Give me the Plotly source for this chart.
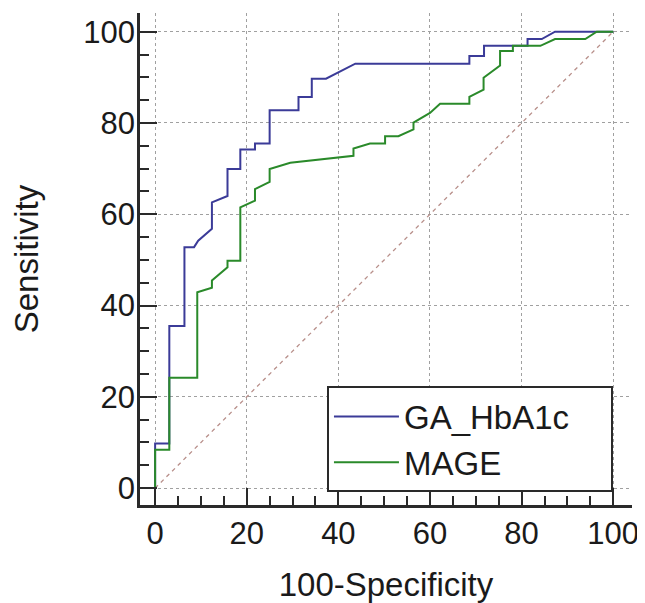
import plotly.graph_objects as go

# ROC curve data (100-Specificity, Sensitivity)
ga_x = [0, 0, 3.1, 3.1, 6.4, 6.4, 8.5, 9.4, 12.4, 12.4, 15.8, 15.8, 18.6, 18.6, 21.8, 21.8, 25.0, 25.0,
        31.3, 31.3, 34.2, 34.2, 37.3, 40.4, 43.7, 68.6, 68.6, 71.8, 71.8, 81.3, 81.3, 84.4, 87.3, 100]
ga_y = [0, 9.8, 9.8, 35.5, 35.5, 52.8, 52.8, 54.2, 56.8, 62.6, 64.0, 69.9, 69.9, 74.2, 74.2, 75.5, 75.5, 82.8,
        82.8, 85.7, 85.7, 89.7, 89.7, 91.3, 93.0, 93.0, 94.7, 94.7, 96.9, 96.9, 98.4, 98.4, 100, 100]

mage_x = [0, 0, 3.1, 3.1, 9.2, 9.2, 12.4, 12.4, 15.8, 15.8, 18.6, 18.6, 21.8, 21.8, 25.0, 25.0, 29.5, 40.4,
          43.3, 43.3, 46.9, 50.2, 50.2, 53.1, 56.4, 56.4, 60.0, 62.2, 68.6, 68.6, 71.7, 71.7, 75.3, 75.3,
          78.1, 78.1, 84.1, 87.3, 93.9, 96.4, 100]
mage_y = [0, 8.4, 8.4, 24.2, 24.2, 42.9, 43.9, 45.5, 48.4, 49.8, 49.8, 61.5, 63.0, 65.5, 67.1, 69.9, 71.3, 72.4,
          72.8, 74.4, 75.5, 75.5, 77.1, 77.1, 78.6, 80.1, 82.2, 84.2, 84.2, 85.7, 87.3, 89.9, 92.6, 95.8,
          95.8, 96.9, 96.9, 98.4, 98.4, 100, 100]

ref_x = [0, 100]
ref_y = [0, 100]

series_names = ["GA_HbA1c", "MAGE"]
tick_vals = [0, 20, 40, 60, 80, 100]

FONT = "Arial, Liberation Sans, sans-serif"
TXT = "#1a1a1a"
PAD = "\u00a0" * 4  # widens the legend box to the reference's width

fig = go.Figure()
fig.add_trace(go.Scatter(x=ref_x, y=ref_y, mode="lines", showlegend=False, hoverinfo="skip",
                         line=dict(color="#b88f8a", width=1.3, dash="4px,4px")))
fig.add_trace(go.Scatter(x=ga_x, y=ga_y, mode="lines", name=series_names[0] + PAD,
                         line=dict(color="#3b3b98", width=2)))
fig.add_trace(go.Scatter(x=mage_x, y=mage_y, mode="lines", name=series_names[1],
                         line=dict(color="#2a8a2a", width=2)))

axis_common = dict(
    tickvals=tick_vals,
    ticks="inside",
    ticklen=17,
    tickwidth=1.5,
    tickcolor="#2a2a2a",
    showline=True,
    linecolor="#2a2a2a",
    linewidth=2.5,
    mirror=False,
    zeroline=False,
    showgrid=True,
    gridcolor="#a0a0a0",
    gridwidth=1,
    griddash="3px,3px",
    minor=dict(dtick=5, ticks="inside", ticklen=9, tickwidth=1.5, tickcolor="#2a2a2a", showgrid=False),
    tickfont=dict(family=FONT, size=31, color=TXT),
)

fig.update_xaxes(range=[-3.3, 104.1],
                 title=dict(text="100-Specificity", font=dict(family=FONT, size=33, color=TXT), standoff=24),
                 ticklabelstandoff=-1, **axis_common)
fig.update_yaxes(range=[-3.7, 104.1],
                 title=dict(text="Sensitivity", font=dict(family=FONT, size=33, color=TXT), standoff=37),
                 ticklabelstandoff=-4, **axis_common)

# page body has an 8px margin, so the figure is sized to the visible window area
fig.update_layout(
    width=637, height=595,
    margin=dict(l=132, r=13, t=5, b=96),
    paper_bgcolor="white", plot_bgcolor="white",
    font=dict(family=FONT, color=TXT),
    legend=dict(x=0.38, y=0.241, xanchor="left", yanchor="top",
                bgcolor="white", bordercolor="#2a2a2a", borderwidth=2,
                font=dict(family=FONT, size=33, color=TXT), itemwidth=65,
                tracegroupgap=0),
)

fig.write_html("out.html")
